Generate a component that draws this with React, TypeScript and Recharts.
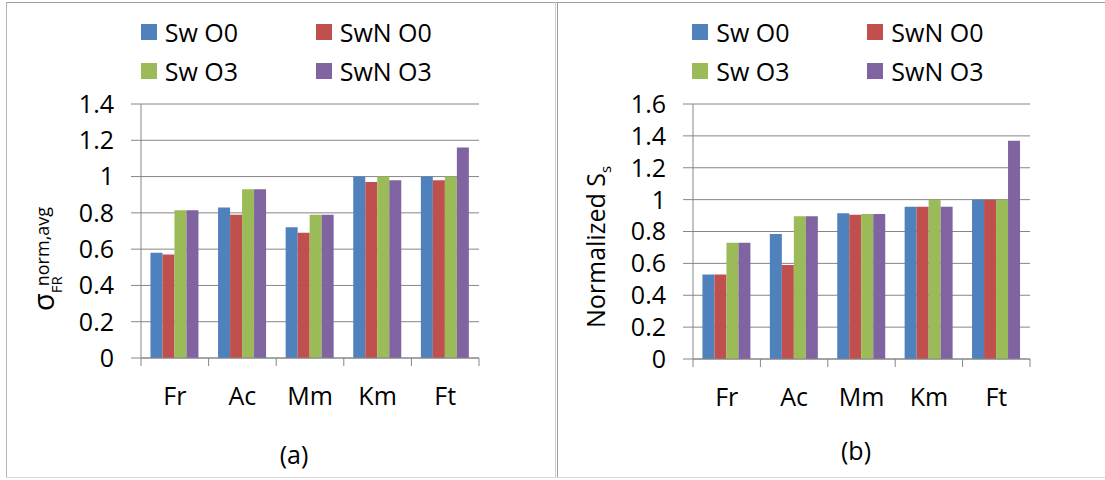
import React from 'react';
import { BarChart, Bar, XAxis, YAxis, CartesianGrid, Legend } from 'recharts';

const categories = ['Fr', 'Ac', 'Mm', 'Km', 'Ft'];
const seriesNames = ['Sw O0', 'SwN O0', 'Sw O3', 'SwN O3'];
const seriesColors = ['#4F81BD', '#C0504D', '#9BBB59', '#8064A2'];

// (a) sigma_FR norm,avg
const swO0A = [0.58, 0.83, 0.72, 1.0, 1.0];
const swnO0A = [0.57, 0.79, 0.69, 0.97, 0.98];
const swO3A = [0.815, 0.93, 0.79, 1.0, 1.0];
const swnO3A = [0.815, 0.93, 0.79, 0.98, 1.16];
const ticksA = [0, 0.2, 0.4, 0.6, 0.8, 1, 1.2, 1.4];

// (b) normalized Ss
const swO0B = [0.53, 0.785, 0.915, 0.955, 1.0];
const swnO0B = [0.53, 0.59, 0.905, 0.955, 1.0];
const swO3B = [0.73, 0.895, 0.91, 1.0, 1.0];
const swnO3B = [0.73, 0.895, 0.91, 0.955, 1.37];
const ticksB = [0, 0.2, 0.4, 0.6, 0.8, 1, 1.2, 1.4, 1.6];

const buildRows = (cols: number[][]) =>
  categories.map((name, i) => ({ name, s0: cols[0][i], s1: cols[1][i], s2: cols[2][i], s3: cols[3][i] }));

const dataA = buildRows([swO0A, swnO0A, swO3A, swnO3A]);
const dataB = buildRows([swO0B, swnO0B, swO3B, swnO3B]);

const FONT = '"Open Sans", sans-serif';
const FS = 25;
const GRID = '#868686';

function CategoryTick(props: any) {
  const { x, y, payload, index, visibleTicksCount } = props;
  const half = payload && payload.offset ? payload.offset : 33.8;
  const last = index === visibleTicksCount - 1;
  return (
    <g>
      <line x1={x - half} x2={x - half} y1={y} y2={y + 8} stroke={GRID} />
      {last && <line x1={x + half} x2={x + half} y1={y} y2={y + 8} stroke={GRID} />}
      <text x={x} y={y + 37} textAnchor="middle" dominantBaseline="central" fontSize={FS} fontFamily={FONT} fill="#000">
        {payload.value}
      </text>
    </g>
  );
}

function LegendGrid() {
  return (
    <div style={{ display: 'grid', gridTemplateColumns: '175px 175px', fontFamily: FONT, fontSize: FS, color: '#000' }}>
      {seriesNames.map((n, i) => (
        <div key={n} style={{ display: 'flex', alignItems: 'center', height: 39 }}>
          <span style={{ display: 'inline-block', width: 16, height: 16, background: seriesColors[i], marginRight: 8 }} />
          <span>{n}</span>
        </div>
      ))}
    </div>
  );
}

const sigmaTitle = () => (
  <text x={53.5} y={311} transform="rotate(-90 53.5 311)" fontFamily={FONT} fill="#000">
    <tspan fontSize={29}>σ</tspan>
    <tspan fontSize={15} dy={8}>FR</tspan>
    <tspan fontSize={18} dx={-10} dy={-13}>norm,avg</tspan>
  </text>
);

const ssTitle = () => (
  <text x={48} y={247} transform="rotate(-90 48 247)" textAnchor="middle" fontFamily={FONT} fill="#000">
    <tspan fontSize={FS}>Normalized S</tspan>
    <tspan fontSize={15} dy={6}>s</tspan>
  </text>
);

const caption = (txt: string, cx: number, cy: number) => () => (
  <text x={cx} y={cy} textAnchor="middle" dominantBaseline="central" fontSize={FS} fontFamily={FONT} fill="#000">
    {txt}
  </text>
);

function Panel({ data, ticks, left, width, margin, legendLeft, yTitle, bottomLabel }: any) {
  return (
    <div style={{ position: 'absolute', left, top: 0 }}>
      <BarChart width={width} height={480} data={data} margin={margin} barCategoryGap="14%" barGap={0}>
        <CartesianGrid vertical={false} stroke={GRID} />
        <XAxis
          dataKey="name"
          interval={0}
          height={40}
          tickSize={0}
          tickMargin={0}
          tickLine={false}
          axisLine={{ stroke: GRID }}
          tick={<CategoryTick />}
          label={{ content: bottomLabel }}
        />
        <YAxis
          width={90}
          domain={[ticks[0], ticks[ticks.length - 1]]}
          ticks={ticks}
          interval={0}
          tickSize={10}
          tickMargin={17}
          axisLine={{ stroke: GRID }}
          tickLine={{ stroke: GRID }}
          tick={{ fontSize: FS, fontFamily: FONT, fill: '#000' }}
          tickFormatter={(v: number) => String(v)}
          label={{ content: yTitle }}
        />
        <Legend
          content={<LegendGrid />}
          layout="horizontal"
          verticalAlign="middle"
          align="center"
          wrapperStyle={{ top: 12.8, left: legendLeft, width: 360 }}
        />
        {seriesNames.map((n, i) => (
          <Bar key={n} dataKey={`s${i}`} name={n} fill={seriesColors[i]} isAnimationActive={false} />
        ))}
      </BarChart>
    </div>
  );
}

export default function App() {
  return (
    <div style={{ position: 'absolute', left: 0, top: 0, width: 1105, height: 480, background: '#fff', overflow: 'hidden' }}>
      <Panel
        data={dataA}
        ticks={ticksA}
        left={0}
        width={556}
        margin={{ top: 104, right: 77, bottom: 82, left: 51 }}
        legendLeft={140.7}
        yTitle={sigmaTitle}
        bottomLabel={caption('(a)', 294, 454)}
      />
      <Panel
        data={dataB}
        ticks={ticksB}
        left={557}
        width={548}
        margin={{ top: 104, right: 75, bottom: 81, left: 46 }}
        legendLeft={135.3}
        yTitle={ssTitle}
        bottomLabel={caption('(b)', 299, 450)}
      />
      <div style={{ position: 'absolute', left: 6, top: 2, width: 1099, height: 1, background: '#9b9b9b' }} />
      <div style={{ position: 'absolute', left: 6, top: 2, width: 1, height: 476, background: '#b5b5b5' }} />
      <div style={{ position: 'absolute', left: 555, top: 2, width: 1, height: 476, background: '#cfcfcf' }} />
      <div style={{ position: 'absolute', left: 557, top: 2, width: 1, height: 476, background: '#9b9b9b' }} />
      <div style={{ position: 'absolute', left: 6, top: 477, width: 1099, height: 1, background: '#dadada' }} />
    </div>
  );
}
